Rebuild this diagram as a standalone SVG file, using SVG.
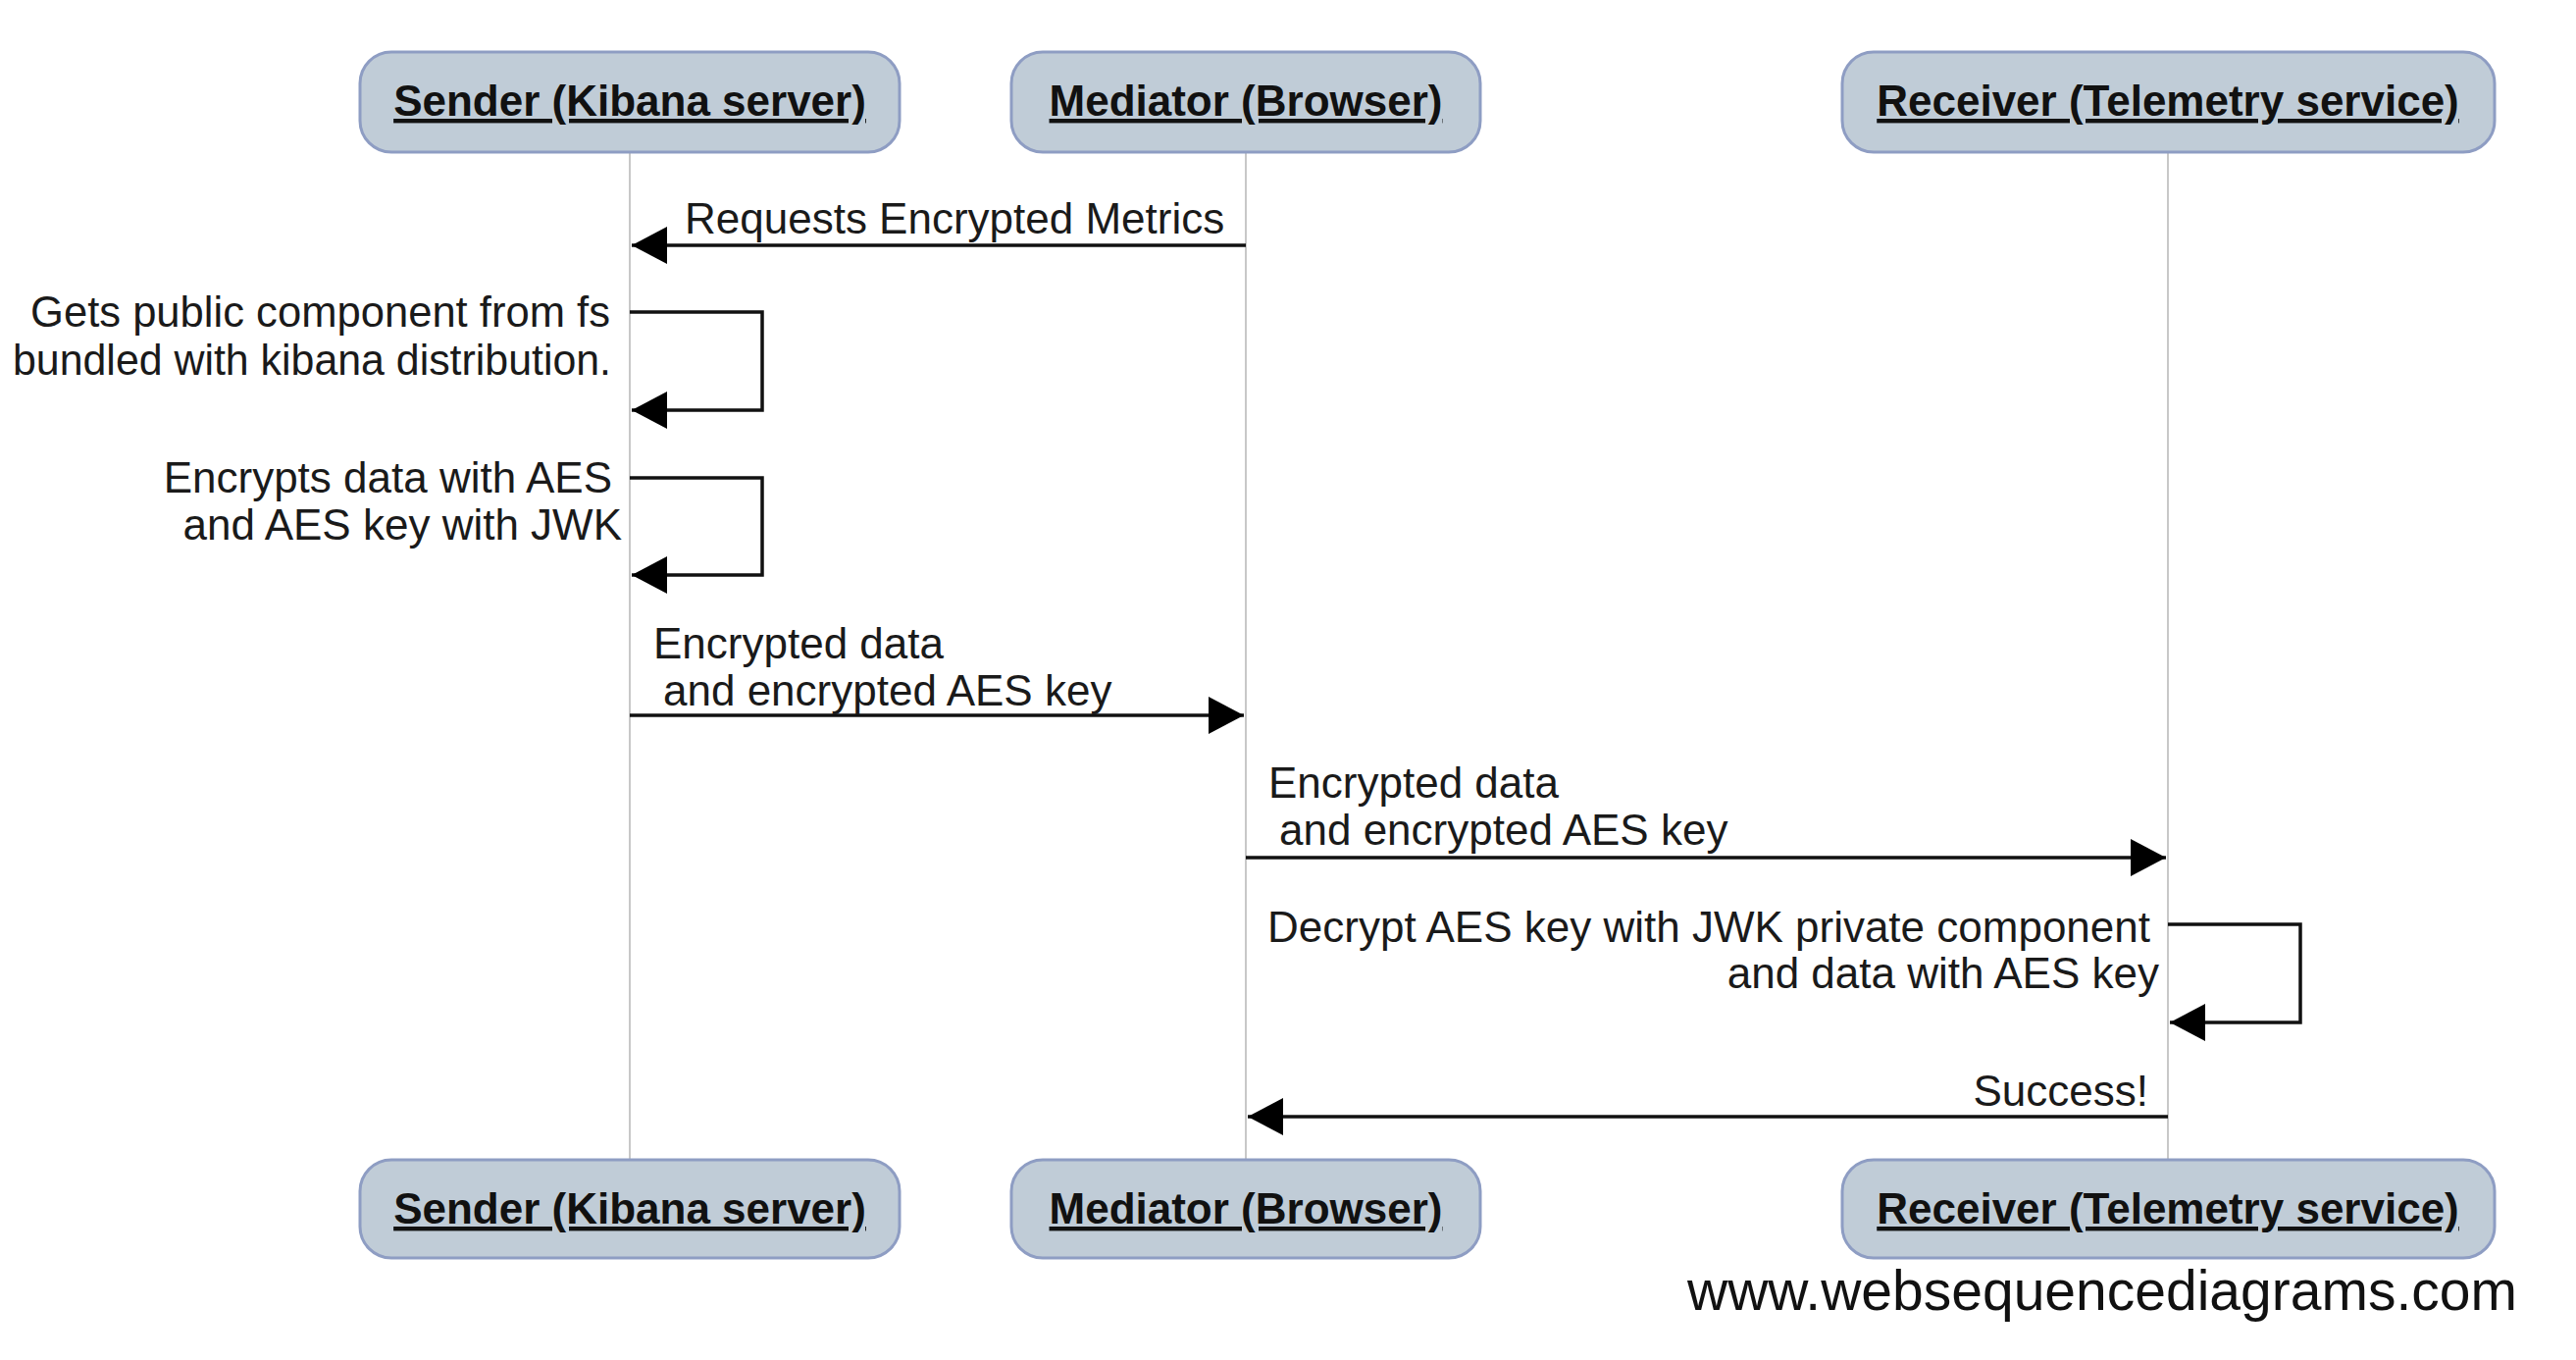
<svg xmlns="http://www.w3.org/2000/svg" width="2626" height="1386" viewBox="0 0 2626 1386">
<style>
.box{fill:#c0ccd7;stroke:#8e9dc3;stroke-width:3}
.lbl{font-family:"Liberation Sans",Arial,sans-serif;font-size:44px;font-weight:bold;fill:#111;text-anchor:middle;text-decoration:underline}
.life{stroke:#c8c8c8;stroke-width:2;fill:none}
.msg{stroke:#111;stroke-width:3.5;fill:none}
.t{font-family:"Liberation Sans",Arial,sans-serif;font-size:44px;fill:#1a1a1a}
.e{text-anchor:end}
.wm{font-family:"Liberation Sans",Arial,sans-serif;font-size:57px;fill:#111}
</style>
<defs>
<marker id="ah" markerWidth="36" markerHeight="38" refX="36" refY="19" orient="auto" markerUnits="userSpaceOnUse">
<path d="M0,0 L36,19 L0,38 Z" fill="#000"/>
</marker>
</defs>
<rect width="2626" height="1386" fill="#fff"/>
<g id="lifelines">
<line class="life" x1="642" y1="155" x2="642" y2="1182"/>
<line class="life" x1="1270" y1="155" x2="1270" y2="1182"/>
<line class="life" x1="2210" y1="155" x2="2210" y2="1182"/>
</g>
<g id="sender">
<rect class="box" x="367" y="53" width="550" height="102" rx="32"/>
<text class="lbl" x="642" y="118">Sender (Kibana server)</text>
<rect class="box" x="367" y="1182" width="550" height="100" rx="32"/>
<text class="lbl" x="642" y="1247">Sender (Kibana server)</text>
</g>
<g id="mediator">
<rect class="box" x="1031" y="53" width="478" height="102" rx="32"/>
<text class="lbl" x="1270" y="118">Mediator (Browser)</text>
<rect class="box" x="1031" y="1182" width="478" height="100" rx="32"/>
<text class="lbl" x="1270" y="1247">Mediator (Browser)</text>
</g>
<g id="receiver">
<rect class="box" x="1878" y="53" width="665" height="102" rx="32"/>
<text class="lbl" x="2210" y="118">Receiver (Telemetry service)</text>
<rect class="box" x="1878" y="1182" width="665" height="100" rx="32"/>
<text class="lbl" x="2210" y="1247">Receiver (Telemetry service)</text>
</g>
<g id="connectors">
<line class="msg" x1="1270" y1="250" x2="644" y2="250" marker-end="url(#ah)"/>
<polyline class="msg" points="642,318 777,318 777,418 644,418" marker-end="url(#ah)"/>
<polyline class="msg" points="642,487 777,487 777,586 644,586" marker-end="url(#ah)"/>
<line class="msg" x1="642" y1="729" x2="1268" y2="729" marker-end="url(#ah)"/>
<line class="msg" x1="1270" y1="874" x2="2208" y2="874" marker-end="url(#ah)"/>
<polyline class="msg" points="2210,942 2345,942 2345,1042 2212,1042" marker-end="url(#ah)"/>
<line class="msg" x1="2210" y1="1138" x2="1272" y2="1138" marker-end="url(#ah)"/>
</g>
<g id="labels">
<text class="t" x="698" y="238">Requests Encrypted Metrics</text>
<text class="t e" x="622" y="333" textLength="591" lengthAdjust="spacingAndGlyphs">Gets public component from fs</text>
<text class="t e" x="623" y="382" textLength="610" lengthAdjust="spacingAndGlyphs">bundled with kibana distribution.</text>
<text class="t e" x="624" y="502">Encrypts data with AES</text>
<text class="t e" x="634" y="550">and AES key with JWK</text>
<text class="t" x="666" y="671">Encrypted data</text>
<text class="t" x="676" y="719">and encrypted AES key</text>
<text class="t" x="1293" y="813">Encrypted data</text>
<text class="t" x="1304" y="861">and encrypted AES key</text>
<text class="t e" x="2192" y="960">Decrypt AES key with JWK private component</text>
<text class="t e" x="2201" y="1007">and data with AES key</text>
<text class="t e" x="2190" y="1127">Success!</text>
</g>
<text class="wm" x="1720" y="1335">www.websequencediagrams.com</text>
</svg>
